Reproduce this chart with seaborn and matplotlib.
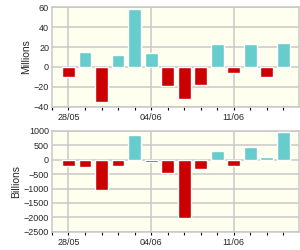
import matplotlib.pyplot as plt
import seaborn as sns
import pandas as pd

# Trading days shown on the x axis
days = ["28/05", "29/05", "30/05", "31/05", "01/06", "04/06", "05/06",
        "06/06", "07/06", "08/06", "11/06", "12/06", "13/06", "14/06"]
tick_labels = {"28/05": 0, "04/06": 5, "11/06": 10}

# Values
millions = [-10, 15, -35, 12, 58, 14, -19, -32, -18, 23, -6, 23, -10, 24]
billions = [-200, -265, -1065, -200, 870, -60, -475, -2005, -335, 290, -200, 430, 80, 975]

up_color = "#66CCCC"
down_color = "#CC0000"
grid_color = "#C8C8C8"

sns.set_style("white")
plt.rcParams['font.family'] = ['Liberation Sans', 'DejaVu Sans']

fig = plt.figure(figsize=(3, 2.5), dpi=100)
ax1 = fig.add_axes([0.173, 0.573, 0.824, 0.398])
ax2 = fig.add_axes([0.173, 0.073, 0.824, 0.403])


def draw(ax, values, ylim, yticks, ylabel):
    df = pd.DataFrame({"day": days, "value": values})
    df["sign"] = ["up" if v >= 0 else "down" for v in values]
    sns.barplot(data=df, x="day", y="value", hue="sign", order=days,
                palette={"up": up_color, "down": down_color},
                dodge=False, width=0.78, saturation=1, legend=False, ax=ax,
                zorder=3)
    ax.set_facecolor("#FFFFF0")
    ax.set_xlim(-1, 13.95)
    ax.set_ylim(*ylim)
    ax.set_yticks(list(yticks))
    ax.set_xticks(range(-1, 14))
    ax.set_xticklabels(["" if d not in tick_labels else d
                        for d in [""] + days])
    # horizontal grid on every tick, vertical only on the weekly labels
    ax.hlines(list(yticks), -1, 13.95, colors=grid_color, linewidth=1.1,
              zorder=1)
    ax.vlines(list(tick_labels.values()), ylim[0], ylim[1], colors=grid_color,
              linewidth=1.1, zorder=1)
    ax.tick_params(axis="x", length=2.5, width=0.8, color="black",
                   labelsize=6.5, pad=2, direction="out", bottom=True)
    ax.tick_params(axis="y", length=0, labelsize=6.5, pad=2, left=True)
    for side in ["top", "right", "left", "bottom"]:
        ax.spines[side].set_color(grid_color)
        ax.spines[side].set_linewidth(1.1)
    ax.set_xlabel("")
    ax.set_ylabel(ylabel, fontsize=7.5, labelpad=2)


draw(ax1, millions, (-40, 60), range(-40, 61, 20), "Millions")
draw(ax2, billions, (-2500, 1000), range(-2500, 1001, 500), "Billions")

plt.savefig("out.png", dpi=100)
plt.close()
